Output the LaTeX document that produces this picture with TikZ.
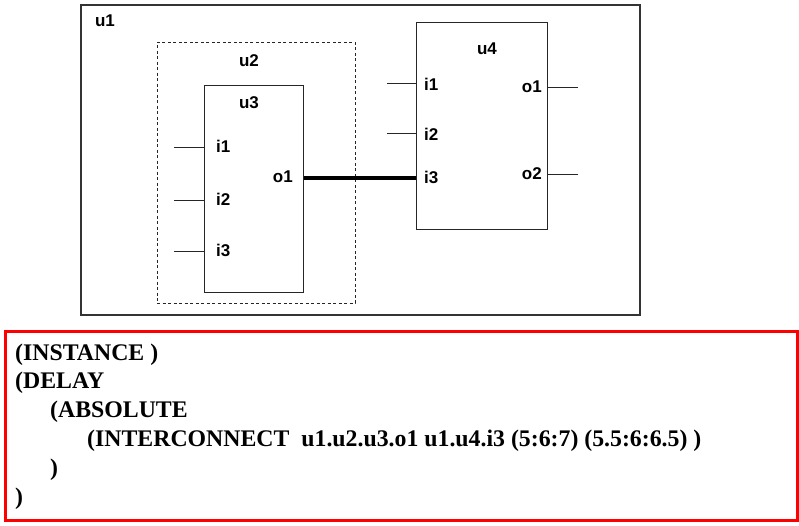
\documentclass[tikz,border=0pt]{standalone}
\usepackage{fontspec}
\setmainfont{Liberation Serif}
\newfontfamily\pinfont{Liberation Sans}
\usetikzlibrary{calc}

\begin{document}
\begin{tikzpicture}[
  x=1pt, y=-1pt,
  frame/.style={draw=black!80, line width=1.2pt, inner sep=0pt},
  cell/.style={draw=black!85, line width=1pt, inner sep=0pt},
  hier/.style={draw=black!85, line width=0.9pt, dash pattern=on 3pt off 2.5pt,
               inner sep=0pt},
  lbl/.style={font=\pinfont\bfseries\fontsize{17}{19}\selectfont, inner sep=0pt},
  wire/.style={draw=black!85, line width=1pt},
  net/.style={draw=black, line width=3.2pt},
  code/.style={draw=red, line width=3pt, inner sep=0pt},
  sdf/.style={anchor=base west, inner sep=0pt,
              font=\bfseries\fontsize{23.8}{28}\selectfont}
]
\useasboundingbox (0,0) rectangle (799,525);

% hierarchy boxes
\node[frame, minimum width=559, minimum height=310] (u1) at (360.5,160) {};
\node[hier,  minimum width=198, minimum height=261] (u2) at (256,172.5) {};
\node[cell,  minimum width=99,  minimum height=207] (u3) at (253.5,188.5) {};
\node[cell,  minimum width=131, minimum height=207] (u4) at (481.5,125.5) {};

\node[lbl] (u1lbl) at (105,21) {u1};
\node[lbl] (u2lbl) at (249,61) {u2};
\node[lbl] (u3lbl) at (249,103) {u3};
\node[lbl] (u4lbl) at (487,49) {u4};

% u3 ports
\foreach \n/\y in {1/147, 2/200, 3/251} {
  \coordinate (u3in\n) at (174,\y);
  \draw[wire] (u3in\n) -- (u3in\n -| u3.west);
  \node[lbl, anchor=west] (u3i\n) at (216,\y-1) {i\n};
}
\node[lbl, anchor=east] (u3o1) at (293,177) {o1};

% u4 ports
\foreach \n/\y in {1/83, 2/133} {
  \coordinate (u4in\n) at (387,\y);
  \draw[wire] (u4in\n) -- (u4in\n -| u4.west);
  \node[lbl, anchor=west] (u4i\n) at (424,\y+1) {i\n};
}
\node[lbl, anchor=west] (u4i3) at (424,177) {i3};
\foreach \n/\y in {1/87, 2/174} {
  \coordinate (u4out\n) at (578,\y);
  \draw[wire] (u4out\n -| u4.east) -- (u4out\n);
  \node[lbl, anchor=east] (u4o\n) at (542,\y) {o\n};
}

% the interconnect
\coordinate (netsrc) at (u3.east |- 0,178);
\draw[net] (netsrc) -- (netsrc -| u4.west);

% SDF text
\node[code, minimum width=792, minimum height=189] (sdfbox) at (401,425.5) {};
\foreach \i/\xx/\txt in {0/15/{(INSTANCE )}, 1/15/{(DELAY},
    2/50/{(ABSOLUTE},
    3/87/{(INTERCONNECT\ \ u1.u2.u3.o1 u1.u4.i3 (5:6:7) (5.5:6:6.5) )},
    4/50/{)}, 5/15/{)}} {
  \node[sdf] (sdf\i) at (\xx,{360+28.8*\i}) {\txt};
}
\end{tikzpicture}
\end{document}
